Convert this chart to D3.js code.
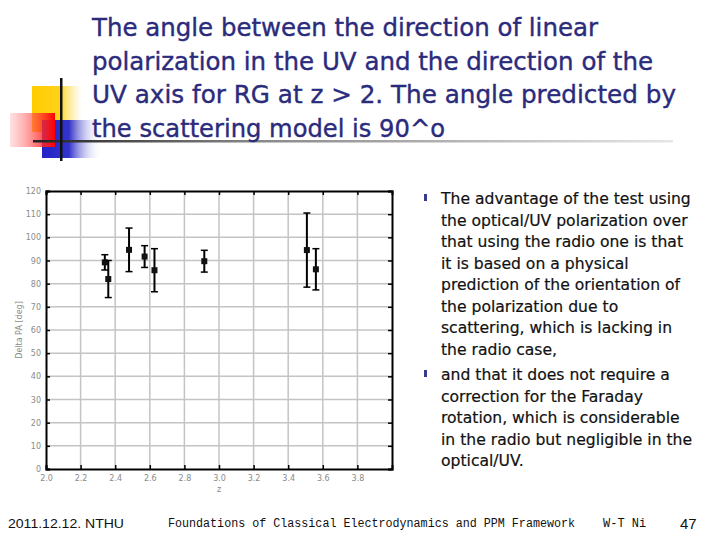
<!DOCTYPE html>
<html><head><meta charset="utf-8">
<script src="https://cdn.jsdelivr.net/npm/d3@7"></script>
<style>html,body{margin:0;padding:0;background:#fff;}svg{display:block;}</style>
</head><body>
<script>
// ---- data ----
const redshift = [2.34, 2.36, 2.48, 2.57, 2.627, 2.915, 3.508, 3.56];
const deltaPA  = [89.2, 82.0, 94.6, 91.7, 85.8, 89.7, 94.5, 86.2];
const paError  = [3.3, 8.0, 9.4, 4.7, 9.3, 4.7, 16.0, 8.9];
const xTicks = [2.0, 2.2, 2.4, 2.6, 2.8, 3.0, 3.2, 3.4, 3.6, 3.8];
const xGrid = [2.2, 2.4, 2.6, 2.8, 3.0, 3.2, 3.4, 3.6, 3.8];
const yTicks = [0, 10, 20, 30, 40, 50, 60, 70, 80, 90, 100, 110, 120];
const titleLines = [
  "The angle between the direction of linear",
  "polarization in the UV and the direction of the",
  "UV axis for RG at z > 2. The angle predicted by",
  "the scattering model is 90^o"
];
const bullet1 = ["The advantage of the test using","the optical/UV polarization over","that using the radio one is that","it is based on a physical","prediction of the orientation of","the polarization due to","scattering, which is lacking in","the radio case,"];
const bullet2 = ["and that it does not require a","correction for the Faraday","rotation, which is considerable","in the radio but negligible in the","optical/UV."];

const W = 720, H = 540;
const svg = d3.select("body").append("svg").attr("width", W).attr("height", H);
const defs = svg.append("defs");
function grad(id, stops, x2 = "100%", y2 = "0%") {
  const g = defs.append("linearGradient").attr("id", id).attr("x1", "0%").attr("y1", "0%").attr("x2", x2).attr("y2", y2);
  stops.forEach(s => g.append("stop").attr("offset", s[0]).attr("stop-color", s[1]).attr("stop-opacity", s[2]));
}
grad("gYellow", [["0%", "#ffcc00", 1], ["55%", "#ffd21a", 1], ["100%", "#ffe680", 0]]);
grad("gRed", [["0%", "#ff9999", 0.3], ["100%", "#ff0000", 1]]);
grad("gBlue", [["0%", "#2323c8", 1], ["45%", "#3333cc", 1], ["100%", "#ffffff", 0]]);
grad("gLine", [["0%", "#222", 1], ["35%", "#888", 1], ["100%", "#e6e6e6", 1]]);

// ---- decoration ----
const deco = svg.append("g");
deco.append("rect").attr("x", 32).attr("y", 86).attr("width", 50).attr("height", 46).attr("fill", "url(#gYellow)");
deco.append("rect").attr("x", 42).attr("y", 120).attr("width", 60).attr("height", 38).attr("fill", "url(#gBlue)");
deco.append("rect").attr("x", 10).attr("y", 113).attr("width", 45).attr("height", 34).attr("fill", "url(#gRed)");
deco.append("rect").attr("x", 33).attr("y", 140).attr("width", 640).attr("height", 2.5).attr("fill", "url(#gLine)");
deco.append("rect").attr("x", 60).attr("y", 78).attr("width", 2.5).attr("height", 83).attr("fill", "#111");

// ---- title ----
const titleColor = "#2b2b7c";
const titleEnds = [598, 653, 676, 445];
titleLines.forEach((t, i) => {
  svg.append("text").attr("x", 92).attr("y", 36 + i * 33.6)
    .attr("font-family", "DejaVu Sans, Verdana, sans-serif").attr("font-size", 25.5)
    .attr("fill", titleColor).attr("stroke", titleColor).attr("stroke-width", 0.4)
    .attr("textLength", titleEnds[i] - 92).attr("lengthAdjust", "spacingAndGlyphs")
    .text(t);
});

// ---- chart ----
const x = d3.scaleLinear().domain([2.0, 4.0]).range([46, 392]);
const y = d3.scaleLinear().domain([0, 120]).range([469, 191]);
const ch = svg.append("g");
ch.append("rect").attr("x", x(2)).attr("y", y(120)).attr("width", x(4) - x(2)).attr("height", y(0) - y(120)).attr("fill", "#fff");
ch.selectAll("line.vg").data(xGrid).join("line").attr("class", "vg")
  .attr("x1", d => x(d)).attr("x2", d => x(d)).attr("y1", y(0)).attr("y2", y(120))
  .attr("stroke", "#c4c4c4").attr("stroke-width", 1.5);
ch.selectAll("line.hg").data(yTicks.slice(1, -1)).join("line").attr("class", "hg")
  .attr("x1", x(2)).attr("x2", x(4)).attr("y1", d => y(d)).attr("y2", d => y(d))
  .attr("stroke", "#c4c4c4").attr("stroke-width", 1.5);

// axes with inward ticks
const axB = d3.axisBottom(x).tickValues(xTicks).tickSize(-4).tickPadding(6).tickFormat(d3.format(".1f"));
const axT = d3.axisTop(x).tickValues(xTicks).tickSize(-4).tickFormat("");
const axL = d3.axisLeft(y).tickValues(yTicks).tickSize(-4).tickPadding(5).tickFormat(d3.format("d"));
const axR = d3.axisRight(y).tickValues(yTicks).tickSize(-4).tickFormat("");
function style(g) {
  g.select(".domain").attr("stroke", "#000").attr("stroke-width", 2);
  g.selectAll(".tick line").attr("stroke", "#000").attr("stroke-width", 1.5);
  g.selectAll("text").attr("fill", "#8a8a8a").attr("font-family", "DejaVu Sans, sans-serif").attr("font-size", 8);
}
ch.append("g").attr("transform", `translate(0,${y(0)})`).call(axB).call(style);
ch.append("g").attr("transform", `translate(0,${y(120)})`).call(axT).call(style);
ch.append("g").attr("transform", `translate(${x(2)},0)`).call(axL).call(style);
ch.append("g").attr("transform", `translate(${x(4)},0)`).call(axR).call(style);

ch.append("text").attr("x", x(3.0)).attr("y", 492).attr("text-anchor", "middle")
  .attr("font-family", "DejaVu Sans, sans-serif").attr("font-size", 8).attr("fill", "#8a8a8a").text("z");
ch.append("text").attr("transform", `translate(22,${y(60)}) rotate(-90)`).attr("text-anchor", "middle")
  .attr("font-family", "DejaVu Sans, sans-serif").attr("font-size", 8).attr("fill", "#8a8a8a").text("Delta PA [deg]");

// error bars & points
const pts = redshift.map((z, i) => ({ z, v: deltaPA[i], e: paError[i] }));
const eb = ch.selectAll("g.eb").data(pts).join("g").attr("class", "eb");
eb.append("line").attr("x1", d => x(d.z)).attr("x2", d => x(d.z))
  .attr("y1", d => y(d.v + d.e)).attr("y2", d => y(d.v - d.e)).attr("stroke", "#000").attr("stroke-width", 2);
eb.append("line").attr("x1", d => x(d.z) - 3.5).attr("x2", d => x(d.z) + 3.5)
  .attr("y1", d => y(d.v + d.e)).attr("y2", d => y(d.v + d.e)).attr("stroke", "#000").attr("stroke-width", 1.5);
eb.append("line").attr("x1", d => x(d.z) - 3.5).attr("x2", d => x(d.z) + 3.5)
  .attr("y1", d => y(d.v - d.e)).attr("y2", d => y(d.v - d.e)).attr("stroke", "#000").attr("stroke-width", 1.5);
eb.append("rect").attr("x", d => x(d.z) - 3).attr("y", d => y(d.v) - 3).attr("width", 6).attr("height", 6).attr("fill", "#111");

// ---- bullets ----
const bfont = "DejaVu Sans, Verdana, sans-serif";
function drawBullet(lines, y0) {
  svg.append("rect").attr("x", 424).attr("y", y0 - 10).attr("width", 3).attr("height", 7).attr("fill", "#3a3a8c");
  lines.forEach((t, i) => {
    svg.append("text").attr("x", 441).attr("y", y0 + i * 21.5)
      .attr("font-family", bfont).attr("font-size", 15.6).attr("fill", "#111")
      .attr("stroke", "#111").attr("stroke-width", 0.2)
      .text(t);
  });
}
drawBullet(bullet1, 204);
drawBullet(bullet2, 380);

// ---- footer ----
svg.append("text").attr("x", 8).attr("y", 528).attr("font-family", "Liberation Sans, Arial, sans-serif").attr("font-size", 13.5).attr("fill", "#111").attr("textLength", 116).attr("lengthAdjust", "spacingAndGlyphs").text("2011.12.12. NTHU");
svg.append("text").attr("x", 168).attr("y", 527).attr("font-family", "Liberation Mono, monospace").attr("font-size", 12).attr("fill", "#111").attr("textLength", 407).attr("lengthAdjust", "spacingAndGlyphs").text("Foundations of Classical Electrodynamics and PPM Framework");
svg.append("text").attr("x", 603).attr("y", 527).attr("font-family", "Liberation Mono, monospace").attr("font-size", 12).attr("fill", "#111").text("W-T Ni");
svg.append("text").attr("x", 680).attr("y", 529).attr("font-family", "Liberation Sans, Arial, sans-serif").attr("font-size", 15).attr("fill", "#111").text("47");
</script>
</body></html>
